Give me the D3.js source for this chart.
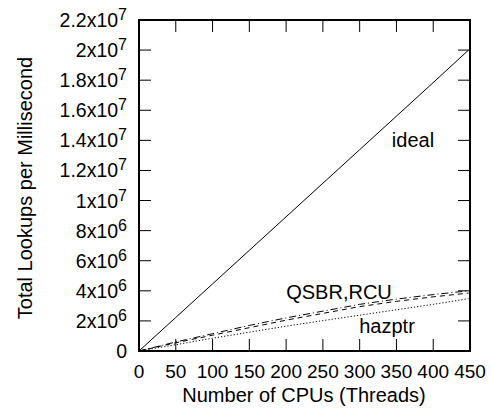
<!DOCTYPE html>
<html><head><meta charset="utf-8">
<script src="https://cdn.jsdelivr.net/npm/d3@7/dist/d3.min.js"></script>
<style>
body{margin:0;background:#fff}
text{font-family:"Liberation Sans",Arial,Helvetica,sans-serif;fill:#000}
</style></head><body>
<svg id="c" width="491" height="415"></svg>
<script>
const cpus   = [0, 50, 100, 150, 200, 250, 300, 350, 400, 448];
const ideal  = [0, 2.23e6, 4.46e6, 6.69e6, 8.92e6, 1.115e7, 1.338e7, 1.561e7, 1.784e7, 2.0e7];
const qsbr   = [0, 0.6e6, 1.15e6, 1.7e6, 2.2e6, 2.65e6, 3.1e6, 3.45e6, 3.75e6, 4.0e6];
const rcu    = [0, 0.55e6, 1.05e6, 1.55e6, 2.05e6, 2.5e6, 2.95e6, 3.3e6, 3.6e6, 3.85e6];
const hazptr = [0, 0.42e6, 0.85e6, 1.25e6, 1.65e6, 2.02e6, 2.38e6, 2.74e6, 3.1e6, 3.48e6];
const xTicks = [0, 50, 100, 150, 200, 250, 300, 350, 400, 450];
const yTicks = [0, 2e6, 4e6, 6e6, 8e6, 1e7, 1.2e7, 1.4e7, 1.6e7, 1.8e7, 2e7, 2.2e7];
const yTickMant = ["0", "2", "4", "6", "8", "1", "1.2", "1.4", "1.6", "1.8", "2", "2.2"];
const yTickExp  = ["", "6", "6", "6", "6", "7", "7", "7", "7", "7", "7", "7"];

const L = 139, R = 470, T = 20, B = 351;
const svg = d3.select("#c");
const x = d3.scaleLinear().domain([0, 450]).range([L, R]);
const y = d3.scaleLinear().domain([0, 2.2e7]).range([B, T]);
const tl = 12;

// ticks: inward on all sides
const g = svg.append("g").attr("stroke", "#000").attr("stroke-width", 1);
xTicks.forEach(v => {
  g.append("line").attr("x1", x(v)).attr("x2", x(v)).attr("y1", B).attr("y2", B - tl);
  g.append("line").attr("x1", x(v)).attr("x2", x(v)).attr("y1", T).attr("y2", T + tl);
});
yTicks.forEach(v => {
  g.append("line").attr("x1", L).attr("x2", L + tl).attr("y1", y(v)).attr("y2", y(v));
  g.append("line").attr("x1", R).attr("x2", R - tl).attr("y1", y(v)).attr("y2", y(v));
});

// tick labels
xTicks.forEach(v => {
  svg.append("text").attr("x", x(v)).attr("y", B + 27).attr("text-anchor", "middle")
    .attr("font-size", 19).text(v);
});
yTicks.forEach((v, i) => {
  const t = svg.append("text").attr("x", 127).attr("y", y(v) + 7).attr("text-anchor", "end")
    .attr("font-size", 19.5);
  if (yTickExp[i]) {
    t.append("tspan").text(yTickMant[i] + "x10");
    t.append("tspan").attr("dy", -7).attr("font-size", 16).text(yTickExp[i]);
  } else {
    t.attr("y", y(v) + 7).text(yTickMant[i]);
  }
});

// lines
const line = ys => d3.line().x((d, i) => x(cpus[i])).y(d => y(d))(ys);
const series = [
  {v: ideal, dash: null},
  {v: qsbr, dash: "7,3,1,3"},
  {v: rcu, dash: "5,4"},
  {v: hazptr, dash: "1.2,2"}
];
series.forEach(s => {
  svg.append("path").attr("d", line(s.v)).attr("fill", "none").attr("stroke", "#000")
    .attr("stroke-width", 1).attr("stroke-dasharray", s.dash);
});

// frame
svg.append("rect").attr("x", L).attr("y", T).attr("width", R - L).attr("height", B - T)
  .attr("fill", "none").attr("stroke", "#000").attr("stroke-width", 2);

// series labels
svg.append("text").attr("x", 413).attr("y", 147).attr("text-anchor", "middle").attr("font-size", 20).text("ideal");
svg.append("text").attr("x", 339).attr("y", 299).attr("text-anchor", "middle").attr("font-size", 20).text("QSBR,RCU");
svg.append("text").attr("x", 387).attr("y", 333).attr("text-anchor", "middle").attr("font-size", 20).text("hazptr");

// axis titles
svg.append("text").attr("x", 304).attr("y", 402).attr("text-anchor", "middle").attr("font-size", 20).text("Number of CPUs (Threads)");
svg.append("text").attr("transform", `translate(32,188) rotate(-90)`).attr("text-anchor", "middle").attr("font-size", 20).text("Total Lookups per Millisecond");
</script>
</body></html>
